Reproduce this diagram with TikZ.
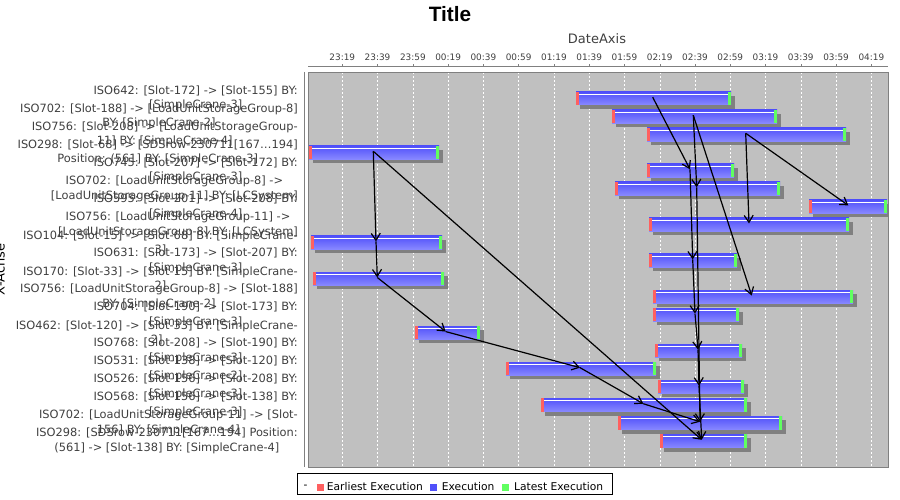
\documentclass[tikz,border=0pt]{standalone}
\usepackage{fontspec}
\setmainfont{DejaVu Sans}
\newfontfamily\titlefont{Liberation Sans}
\usetikzlibrary{arrows.meta, positioning}

\definecolor{plotbg}{RGB}{192,192,192}
\definecolor{axisgray}{RGB}{128,128,128}
\definecolor{labgray}{RGB}{64,64,64}
\definecolor{earlyred}{RGB}{255,96,96}
\definecolor{execblue}{RGB}{80,80,250}
\definecolor{execlight}{RGB}{136,136,255}
\definecolor{lategreen}{RGB}{96,255,96}

\tikzset{
  rowlab/.style={anchor=east, align=center, inner sep=0pt, text=labgray, font=\fontsize{11.4}{14.5}\selectfont},
  ticklab/.style={inner sep=0pt, text=labgray, font=\fontsize{8.9}{10}\selectfont},
  legtext/.style={anchor=west, inner sep=0pt, font=\fontsize{10.7}{12}\selectfont},
  dep/.style={-{Straight Barb[length=7pt,width=9pt]}, line width=1.2pt},
}

\begin{document}
\begin{tikzpicture}[x=1pt, y=-1pt]
  \useasboundingbox (0,0) rectangle (900,500);
  \fill[white] (0,0) rectangle (900,500);

  % title and axis labels
  \node[font=\titlefont\bfseries\fontsize{20.8}{22}\selectfont] (title) at (450,14) {Title};
  \node[font=\fontsize{13}{15}\selectfont, text=labgray] (dateaxis) at (597,39) {DateAxis};
  \node[rotate=90, anchor=base, inner sep=0pt, font=\fontsize{13}{15}\selectfont] (xachse) at (4.7,269.5) {X-Achse};

  % plot area with grid
  \fill[plotbg] (308,72) rectangle (888,467);
  \foreach \k in {0,...,15}
    \draw[white, dash pattern=on 2pt off 2pt] ({342.3+35.27*\k},72) -- ({342.3+35.27*\k},467);
  \foreach \tlab [count=\k from 0] in {23:19,23:39,23:59,00:19,00:39,00:59,01:19,01:39,01:59,02:19,02:39,02:59,03:19,03:39,03:59,04:19} {
    \node[ticklab] (t\k) at ({342.3+35.27*\k},57.5) {\tlab};
    \draw[axisgray] ({342.3+35.27*\k},64.5) -- ({342.3+35.27*\k},66.7);
  }
  \draw[axisgray] (308,66.7) -- (888,66.7);
  \draw[axisgray] (304,72) -- (304,467);

  % bars: row / start / end / anchor
  \begin{scope}
    \clip (308,72) rectangle (888,467);
    \foreach \i/\s/\e/\ax in {1/576/731/652.7, 2/612/777/693.3, 3/647/846/745.7, 4/309/439/373.3,
        5/647/734/690, 6/615/780/696.7, 7/809/887/848.3, 8/649/849/749, 9/311/442/376,
        10/649/737/692.7, 11/313/444/377.3, 12/653/853/751.7, 13/653/739/695, 14/415/480/445.7,
        15/655/742/698, 16/506/656/580, 17/658/744/699, 18/541/747/643.3, 19/618/782/700,
        20/660/747/701.7} {
      \pgfmathsetmacro{\t}{91.7+18.03*(\i-1)}
      \fill[axisgray] (\s+4,\t+4) rectangle (\e+4,\t+17.3);
      \shade[top color=execblue, bottom color=execlight] (\s,\t) rectangle (\e,\t+13.3);
      \fill[execblue] (\s,\t) rectangle (\e,\t+1);
      \fill[white] (\s,\t+2) rectangle (\e,\t+3);
      \fill[earlyred] (\s,\t) rectangle (\s+3,\t+13.3);
      \fill[lategreen] (\e-3,\t) rectangle (\e,\t+13.3);
      \coordinate (a\i) at (\ax,\t+5.5);
    }
  \end{scope}
  \draw[axisgray] (308,72) rectangle (888,467);

  % dependencies
  \foreach \p/\q in {4/9, 9/11, 11/14, 14/16, 16/18, 18/19, 4/20, 1/5, 2/6, 2/12,
      3/7, 3/8, 5/10, 10/13, 13/15, 15/17, 17/20, 6/19}
    \draw[dep] (a\p) -- (a\q);

  % row labels
  \node[rowlab] (l1) at (298,98.5) {ISO642: [Slot-172] -> [Slot-155] BY:\\{}[SimpleCrane-3]};
  \node[rowlab] (l2) at (298,116.5) {ISO702: [Slot-188] -> [LoadUnitStorageGroup-8]\\BY: [SimpleCrane-2]};
  \node[rowlab] (l3) at (298,134.6) {ISO756: [Slot-208] -> [LoadUnitStorageGroup-\\11] BY: [SimpleCrane-4]};
  \node[rowlab] (l4) at (298,152.6) {ISO298: [Slot-68] -> [SDSrow-230711[167…194]\\Position: (561] BY: [SimpleCrane-3]};
  \node[rowlab] (l5) at (298,170.6) {ISO745: [Slot-207] -> [Slot-172] BY:\\{}[SimpleCrane-3]};
  \node[rowlab] (l6) at (298,188.7) {ISO702: [LoadUnitStorageGroup-8] ->\\{}[LoadUnitStorageGroup-11] BY: [LCSystem]};
  \node[rowlab] (l7) at (298,206.7) {ISO595: [Slot-201] -> [Slot-208] BY:\\{}[SimpleCrane-4]};
  \node[rowlab] (l8) at (298,224.7) {ISO756: [LoadUnitStorageGroup-11] ->\\{}[LoadUnitStorageGroup-8] BY: [LCSystem]};
  \node[rowlab] (l9) at (298,242.7) {ISO104: [Slot-15] -> [Slot-68] BY: [SimpleCrane-\\3]};
  \node[rowlab] (l10) at (298,260.8) {ISO631: [Slot-173] -> [Slot-207] BY:\\{}[SimpleCrane-3]};
  \node[rowlab] (l11) at (298,278.8) {ISO170: [Slot-33] -> [Slot-15] BY: [SimpleCrane-\\2]};
  \node[rowlab] (l12) at (298,296.8) {ISO756: [LoadUnitStorageGroup-8] -> [Slot-188]\\BY: [SimpleCrane-2]};
  \node[rowlab] (l13) at (298,314.9) {ISO704: [Slot-190] -> [Slot-173] BY:\\{}[SimpleCrane-3]};
  \node[rowlab] (l14) at (298,332.9) {ISO462: [Slot-120] -> [Slot-33] BY: [SimpleCrane-\\2]};
  \node[rowlab] (l15) at (298,350.9) {ISO768: [Slot-208] -> [Slot-190] BY:\\{}[SimpleCrane-3]};
  \node[rowlab] (l16) at (298,369) {ISO531: [Slot-138] -> [Slot-120] BY:\\{}[SimpleCrane-2]};
  \node[rowlab] (l17) at (298,387) {ISO526: [Slot-156] -> [Slot-208] BY:\\{}[SimpleCrane-3]};
  \node[rowlab] (l18) at (298,405) {ISO568: [Slot-156] -> [Slot-138] BY:\\{}[SimpleCrane-3]};
  \node[rowlab] (l19) at (298,423) {ISO702: [LoadUnitStorageGroup-11] -> [Slot-\\156] BY: [SimpleCrane-4]};
  \node[rowlab] (l20) at (298,441.1) {ISO298: [SDSrow-230711[167…194] Position:\\(561] -> [Slot-138] BY: [SimpleCrane-4]};

  % legend
  \draw (296.7,472.7) rectangle (611.7,494);
  \node[legtext] (ldash) at (303.5,487) {-};
  \fill[earlyred] (316.7,483.5) rectangle (323.7,490.5);
  \node[legtext] (learly) at (326.7,487) {Earliest Execution};
  \fill[execblue] (430,483.5) rectangle (437,490.5);
  \node[legtext] (lexec) at (441.7,487) {Execution};
  \fill[lategreen] (502.3,483.5) rectangle (509.3,490.5);
  \node[legtext] (llate) at (514,487) {Latest Execution};
\end{tikzpicture}
\end{document}
